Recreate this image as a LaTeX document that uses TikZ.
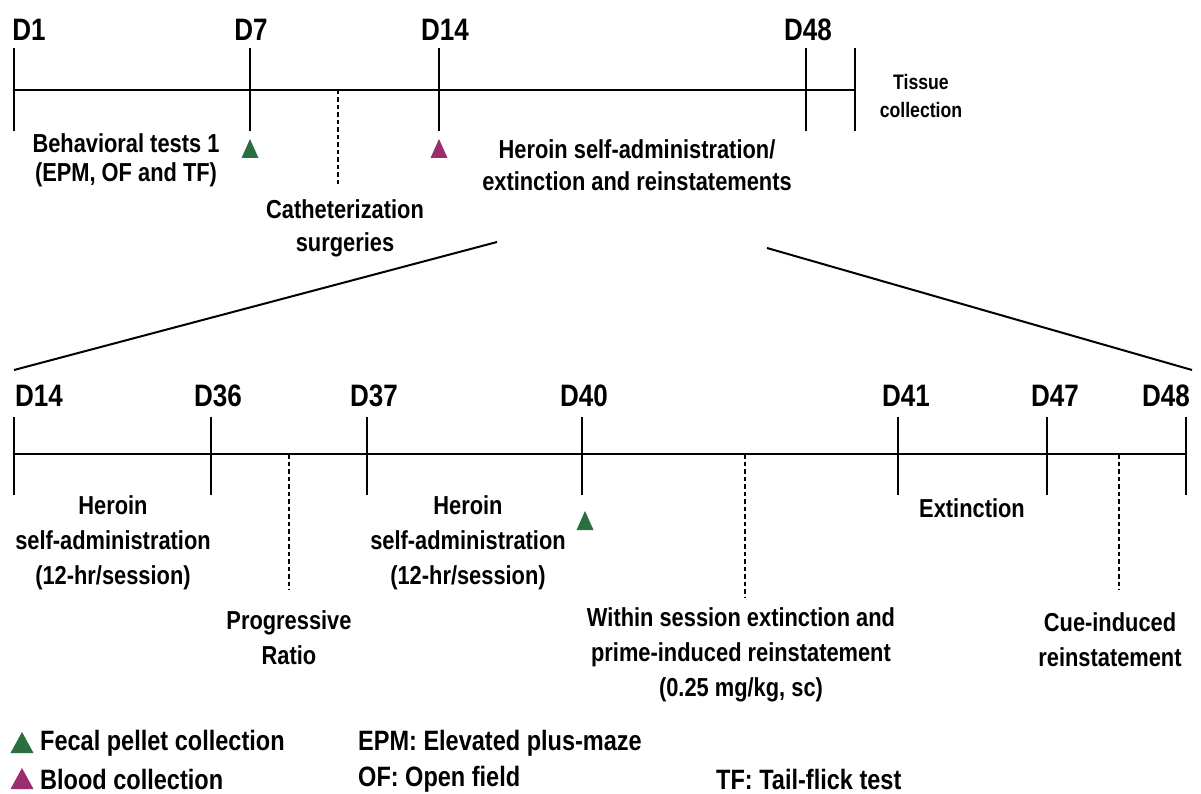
\documentclass[tikz,border=0pt]{standalone}
\usepackage{fontspec}
\setmainfont{Liberation Sans}[FakeStretch=0.84]
\definecolor{tgreen}{RGB}{43,110,63}
\definecolor{tmag}{RGB}{155,45,110}
\begin{document}
\begin{tikzpicture}[x=1pt,y=-1pt,
  lbl/.style={font=\fontsize{26}{#1}\selectfont\bfseries, align=center, inner sep=0pt},
  lbl/.default=32,
  day/.style={font=\fontsize{31}{32}\selectfont\bfseries, inner sep=0pt, anchor=base},
  leg/.style={font=\fontsize{28}{30}\selectfont\bfseries, inner sep=0pt, anchor=west},
  axis/.style={line width=2.4pt},
  tickline/.style={line width=1.8pt},
  dashline/.style={line width=1.4pt, dash pattern=on 4.5pt off 3pt},
  zoomline/.style={line width=2pt},
  pics/tri/.style={code={\fill (-8.5,9) -- (8.5,9) -- (0,-10) -- cycle;}},
  pics/bigtri/.style={code={\fill (-11.5,10) -- (11.5,10) -- (0,-11) -- cycle;}}]
\useasboundingbox (0,0) rectangle (1201,794);

% ---------- top timeline ----------
\coordinate (a0) at (14,90);
\coordinate (a7) at (250,90);
\coordinate (a14) at (439,90);
\coordinate (a48) at (806,90);
\coordinate (aend) at (855,90);
\coordinate (acat) at (338,90);
\draw[axis] (a0) -- (aend);
\foreach \c in {a0,a7,a14,a48,aend} \draw[tickline] (\c) ++(0,-42) -- ++(0,83);
\draw[dashline] (acat) -- ++(0,95);

\node[day] (d1) at (29,41) {D1};
\node[day] (d7) at (251,41) {D7};
\node[day] (d14t) at (445,41) {D14};
\node[day] (d48t) at (808,41) {D48};

\pic[color=tgreen] at (250,149) {tri};
\pic[color=tmag] at (439,149) {tri};

\node[lbl=29] (beh) at (126,160) {Behavioral tests 1\\(EPM, OF and TF)};
\node[lbl=33] (cath) at (345,228) {Catheterization\\surgeries};
\node[lbl=32] (hsa) at (637,165) {Heroin self-administration/\\extinction and reinstatements};
\node[font=\fontsize{21}{28}\selectfont\bfseries, align=center, inner sep=0pt] (tis) at (921,96) {Tissue\\collection};

% ---------- zoom lines ----------
\coordinate (zl1) at (497,242);
\coordinate (zl2) at (14,370);
\coordinate (zr1) at (767,248);
\coordinate (zr2) at (1192,370);
\draw[zoomline] (zl1) -- (zl2);
\draw[zoomline] (zr1) -- (zr2);

% ---------- bottom timeline ----------
\coordinate (b14) at (14,454);
\coordinate (b36) at (211,454);
\coordinate (b37) at (367,454);
\coordinate (b40) at (582,454);
\coordinate (b41) at (898,454);
\coordinate (b47) at (1047,454);
\coordinate (b48) at (1186,454);
\coordinate (bpr) at (289,454);
\coordinate (bws) at (745,454);
\coordinate (bcue) at (1119,454);
\draw[axis] (b14) -- (b48);
\foreach \c in {b14,b36,b37,b40,b41,b47,b48} \draw[tickline] (\c) ++(0,-37) -- ++(0,78);
\draw[dashline] (bpr) -- ++(0,136);
\draw[dashline] (bws) -- ++(0,144);
\draw[dashline] (bcue) -- ++(0,136);

\node[day] (e14) at (39,406) {D14};
\node[day] (e36) at (218,406) {D36};
\node[day] (e37) at (374,406) {D37};
\node[day] (e40) at (584,406) {D40};
\node[day] (e41) at (906,406) {D41};
\node[day] (e47) at (1055,406) {D47};
\node[day] (e48) at (1166,406) {D48};

\pic[color=tgreen] at (585,521) {tri};

\node[lbl=35] (h1) at (113,543) {Heroin\\self-administration\\(12-hr/session)};
\node[lbl=35] (pr) at (289,638) {Progressive\\Ratio};
\node[lbl=35] (h2) at (468,543) {Heroin\\self-administration\\(12-hr/session)};
\node[lbl=35] (ws) at (741,655) {Within session extinction and\\prime-induced reinstatement\\(0.25 mg/kg, sc)};
\node[lbl] (ext) at (972,508) {Extinction};
\node[lbl=35] (cue) at (1110,640) {Cue-induced\\reinstatement};

% ---------- legend ----------
\pic[color=tgreen] at (22,743) {bigtri};
\pic[color=tmag] at (22,779) {bigtri};
\node[leg] (lf) at (40,743) {Fecal pellet collection};
\node[leg] (lb) at (40,779) {Blood collection};
\node[leg] (le) at (358,743) {EPM: Elevated plus-maze};
\node[leg] (lo) at (358,779) {OF: Open field};
\node[leg] (lt) at (716,779) {TF: Tail-flick test};
\end{tikzpicture}
\end{document}
